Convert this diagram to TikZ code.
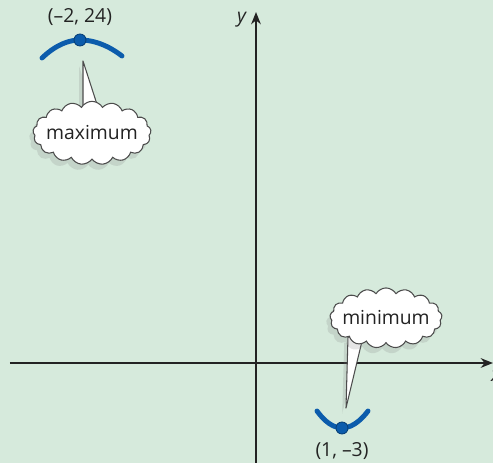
\documentclass[tikz,border=0pt]{standalone}
\usepackage{fontspec}
\setmainfont{Open Sans}
\usetikzlibrary{arrows.meta,shapes.symbols,shadows,calc}
\definecolor{paper}{RGB}{214,234,220}
\definecolor{curveblue}{RGB}{12,92,172}
\definecolor{ink}{RGB}{35,35,35}
\tikzset{
  axis/.style={ink, line width=0.9pt, -{Stealth[length=7pt,width=5.5pt]}},
  arc/.style={curveblue, line width=2.8pt, line cap=round},
  dot/.style={circle, fill=curveblue, draw=curveblue!70!black, line width=0.5pt, inner sep=0pt, minimum size=0.24cm},
  bubble/.style={cloud, cloud puffs=17, cloud puff arc=120, aspect=2.2, draw=black!70, fill=white, line width=0.6pt,
    inner xsep=-3pt, inner ysep=-0.5pt, text=ink, drop shadow={opacity=0.2, shadow xshift=-0.4ex, shadow yshift=-0.6ex}},
  pointer/.style={draw=black!70, fill=white, line width=0.6pt, line join=round},
  lbl/.style={text=ink, inner sep=1pt}
}
\begin{document}
\begin{tikzpicture}[font=\fontsize{11}{13}\selectfont]
    \useasboundingbox[fill=paper] (-5.12,-2.0) rectangle (4.74,7.26);
    \coordinate (xl) at (-4.92,0);
    \coordinate (xr) at (4.74,0);
    \coordinate (yb) at (0,-2.0);
    \coordinate (yt) at (0,7.02);
    \draw[axis] (xl) -- (xr);
    \draw[axis] (yb) -- (yt);
    \node[lbl, anchor=north west] (xlab) at (4.66,-0.12) {\textit{x}};
    \node[lbl] (ylab) at (-0.28,6.86) {\textit{y}};
    % maximum turning point
    \coordinate (maxpt) at (-3.52,6.46);
    \draw[arc] (-4.28,6.10) parabola bend (maxpt) (-2.68,6.14);
    \node[dot] (maxdot) at (maxpt) {};
    \node[lbl] (maxlab) at (-3.52,6.92) {(–2, 24)};
    \coordinate (maxtip) at (-3.46,6.04);
    \coordinate (maxc) at (-3.28,4.60);
    \filldraw[pointer, drop shadow={opacity=0.2, shadow xshift=-0.4ex, shadow yshift=-0.6ex}]
      ($(maxc)+(-0.18,0.45)$) -- (maxtip) -- ($(maxc)+(0.14,0.45)$) -- cycle;
    \node[bubble] (maxcloud) at (maxc) {maximum};
    % minimum turning point
    \coordinate (minpt) at (1.72,-1.30);
    \draw[arc] (1.22,-0.96) parabola bend (minpt) (2.24,-0.96);
    \node[dot] (mindot) at (minpt) {};
    \node[lbl] (minlab) at (1.72,-1.76) {(1, –3)};
    \coordinate (mintip) at (1.80,-0.90);
    \coordinate (minc) at (2.60,0.90);
    \filldraw[pointer, drop shadow={opacity=0.2, shadow xshift=-0.4ex, shadow yshift=-0.6ex}]
      ($(minc)+(-0.76,-0.38)$) -- (mintip) -- ($(minc)+(-0.46,-0.38)$) -- cycle;
    \node[bubble] (mincloud) at (minc) {minimum};
\end{tikzpicture}
\end{document}
